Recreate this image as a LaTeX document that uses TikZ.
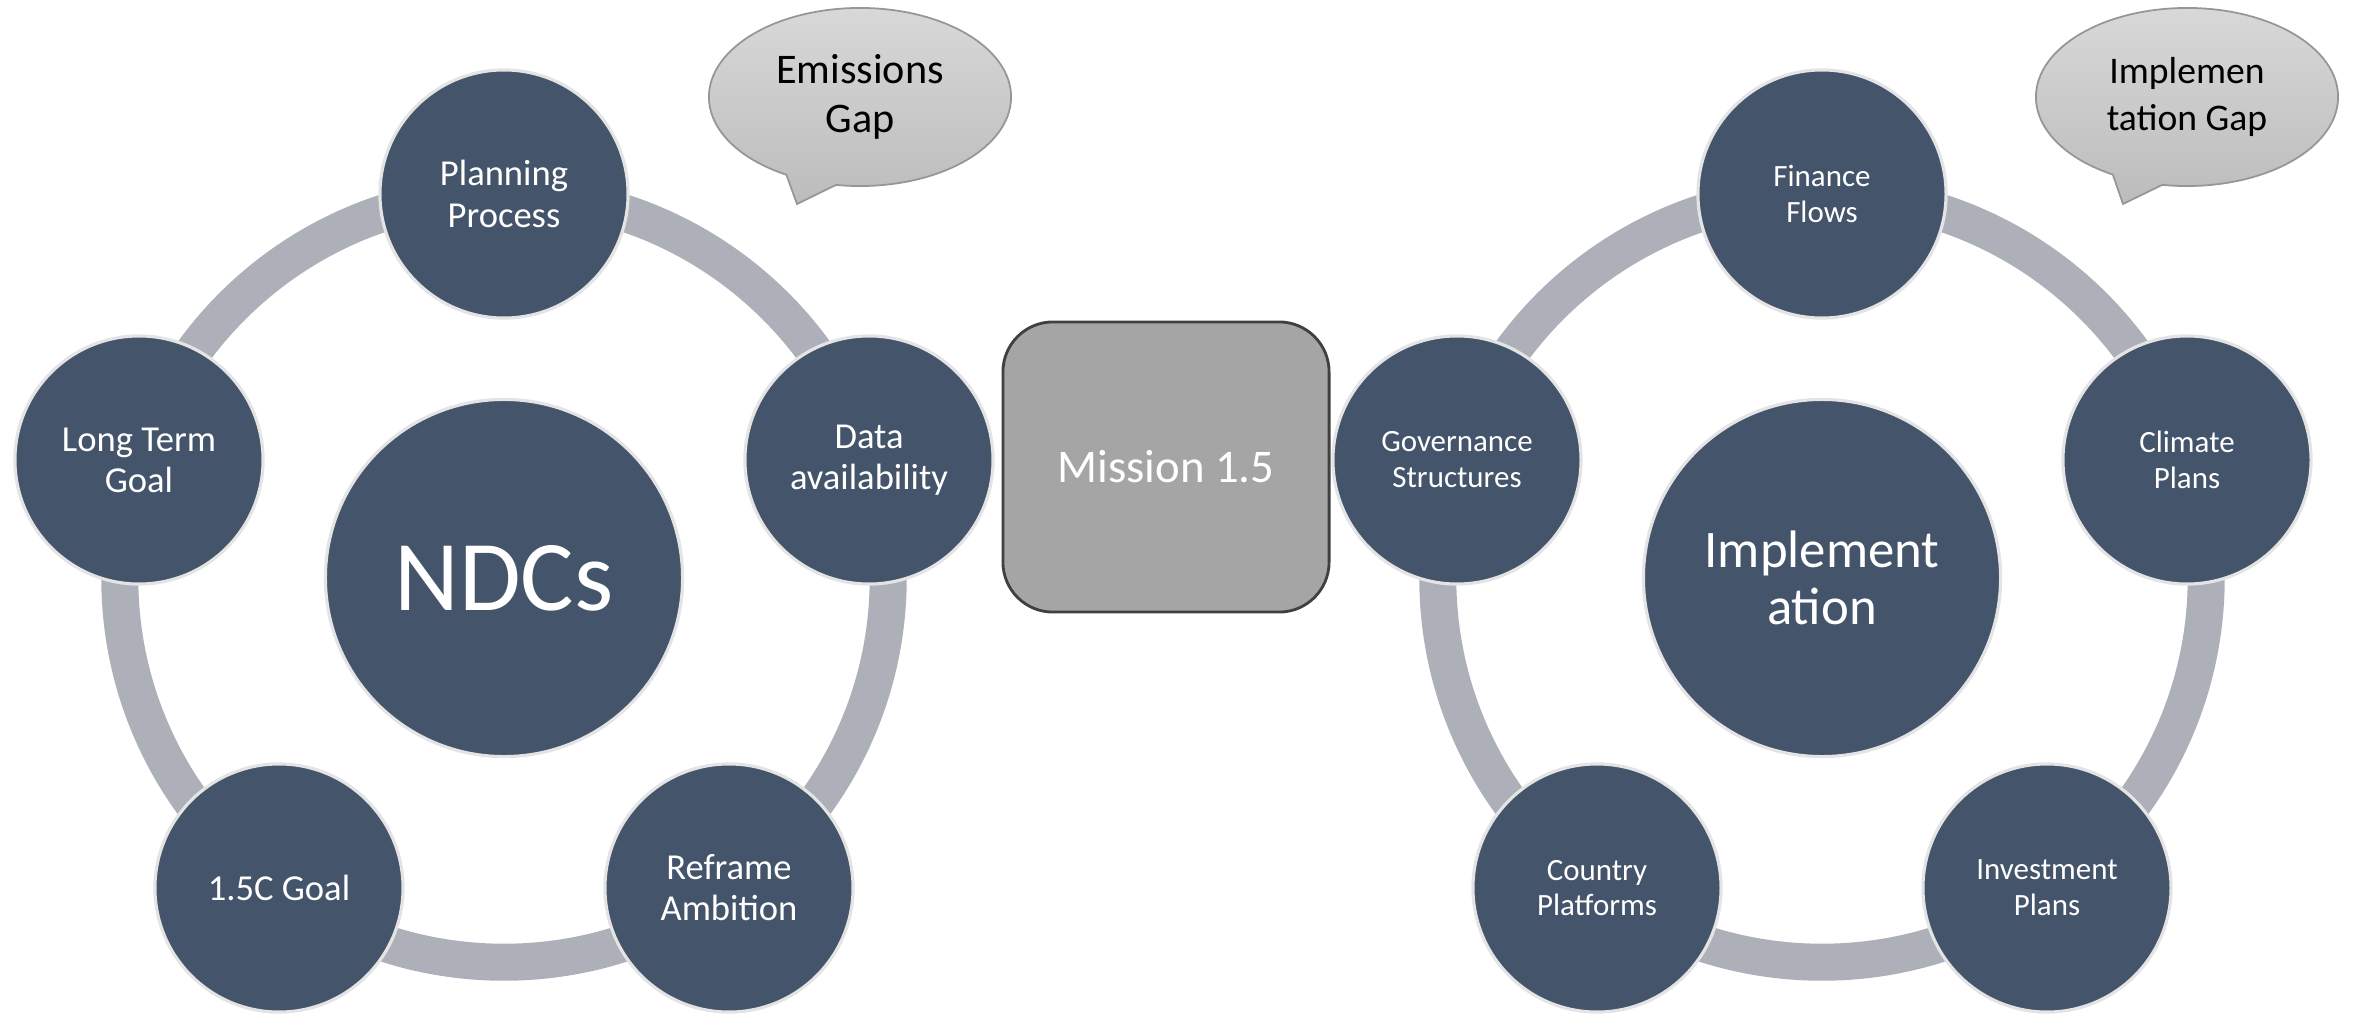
\documentclass[tikz,border=0pt]{standalone}
\usepackage{fontspec}
\setmainfont{Carlito}
\usepackage{xcolor}
\definecolor{slate}{RGB}{68, 84, 106}
\definecolor{ringgrey}{RGB}{173, 176, 184}
\definecolor{rimgrey}{RGB}{228, 228, 228}
\definecolor{boxgrey}{RGB}{165, 165, 165}
\definecolor{boxedge}{RGB}{64, 64, 64}
\definecolor{bubbletop}{RGB}{216, 216, 216}
\definecolor{bubblebottom}{RGB}{188, 188, 188}
\definecolor{bubbleedge}{RGB}{150, 150, 150}
\usetikzlibrary{shapes.callouts}
\newcommand{\ndcsatfont}{\fontsize{10.4}{11.7}\selectfont}
\newcommand{\impsatfont}{\fontsize{8.8}{10.2}\selectfont}
\tikzset{
  hubnode/.style={circle, draw=rimgrey, fill=slate, line width=0.9pt, minimum size=3.57cm, inner sep=0pt, text=white, align=center, font=#1},
  satnode/.style={circle, draw=rimgrey, fill=slate, line width=0.9pt, minimum size=2.48cm, inner sep=0pt, text=white, align=center, font=#1},
  ringpath/.style={draw=ringgrey, line width=0.37cm},
  missionbox/.style={rectangle, rounded corners=0.5cm, draw=boxedge, fill=boxgrey, line width=0.8pt, minimum width=3.26cm, minimum height=2.9cm, text=white, font=\fontsize{13.3}{16}\selectfont},
  gapbubble/.style={ellipse callout, draw=bubbleedge, top color=bubbletop, bottom color=bubblebottom, line width=0.5pt, minimum width=3.02cm, minimum height=1.78cm, inner sep=0pt, callout pointer arc=20, align=center, font=#1},
}

\begin{document}
\begin{tikzpicture}[x=0.01cm, y=-0.01cm]
\useasboundingbox (0,0) rectangle (2354,1015);
\coordinate (ndcring) at (504,578);
\coordinate (impring) at (1822,578);
\draw[ringpath] (ndcring) circle [radius=3.84cm];
\draw[ringpath] (impring) circle [radius=3.84cm];

\node[hubnode=\fontsize{28.5}{30}\selectfont] (ndc) at (ndcring) {NDCs};
\node[satnode=\ndcsatfont] (planning) at (504,194) {Planning\\Process};
\node[satnode=\ndcsatfont] (data) at (869,460) {Data\\availability};
\node[satnode=\ndcsatfont] (reframe) at (729,888) {Reframe\\Ambition};
\node[satnode=\ndcsatfont] (goal) at (279,888) {1.5C Goal};
\node[satnode=\ndcsatfont] (longterm) at (139,460) {Long Term\\Goal};

\node[hubnode=\fontsize{15}{16.1}\selectfont] (impl) at (impring) {Implement\\ation};
\node[satnode=\impsatfont] (finance) at (1822,194) {Finance\\Flows};
\node[satnode=\impsatfont] (climate) at (2187,460) {Climate\\Plans};
\node[satnode=\impsatfont] (invest) at (2047,888) {Investment\\Plans};
\node[satnode=\impsatfont] (country) at (1597,888) {Country\\Platforms};
\node[satnode=\impsatfont] (governance) at (1457,460) {Governance\\Structures};

\node[missionbox] (mission) at (1166,467) {Mission 1.5};

\coordinate (emtip) at (797,204);
\coordinate (imtip) at (2123,204);
\node[gapbubble=\fontsize{12}{14}\selectfont, callout absolute pointer={(emtip)}] (emgap) at (860,97) {Emissions\\Gap};
\node[gapbubble=\fontsize{10.7}{13.5}\selectfont, callout absolute pointer={(imtip)}] (imgap) at (2187,97) {Implemen\\tation Gap};
\end{tikzpicture}
\end{document}
